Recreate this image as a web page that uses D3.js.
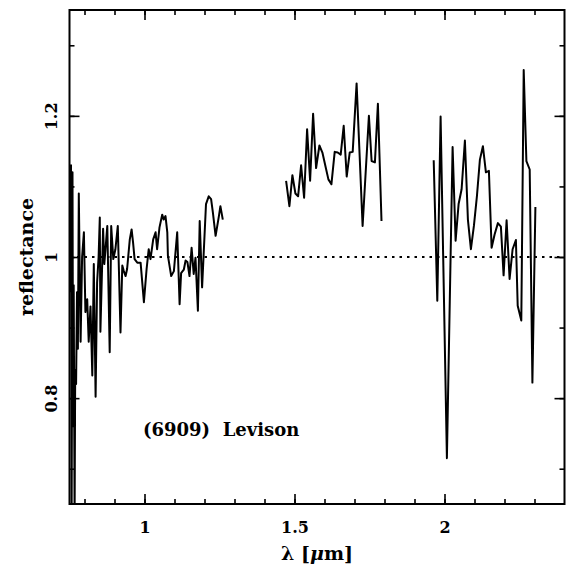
<!DOCTYPE html>
<html>
<head>
<meta charset="utf-8">
<script src="https://cdn.jsdelivr.net/npm/d3@7"></script>
<style>
  html, body { margin: 0; padding: 0; background: #fff; }
  svg { display: block; }
  text { font-family: "DejaVu Serif", "Liberation Serif", serif; font-weight: bold; fill: #000; }
</style>
</head>
<body>
<svg id="chart" width="569" height="576"></svg>
<script>
// Reflectance spectrum of (6909) Levison, three instrument segments
const visWavelength = [0.752, 0.755, 0.757, 0.760, 0.762, 0.764, 0.767, 0.769, 0.772, 0.775,
  0.778, 0.781, 0.787, 0.792, 0.798, 0.803, 0.809, 0.814, 0.820, 0.826,
  0.831, 0.837, 0.842, 0.847, 0.851, 0.853, 0.862, 0.866, 0.870, 0.876,
  0.884, 0.889, 0.896, 0.903, 0.911, 0.920, 0.926, 0.931, 0.937, 0.942,
  0.951, 0.957, 0.962, 0.967, 0.976, 0.987, 0.998, 1.007, 1.014, 1.020,
  1.029, 1.037, 1.042, 1.050, 1.059, 1.064, 1.070, 1.076, 1.078,
  1.089, 1.098, 1.109, 1.117, 1.122, 1.131, 1.137, 1.143, 1.150, 1.157,
  1.164, 1.170, 1.178, 1.184, 1.192, 1.205, 1.214, 1.222, 1.228, 1.237,
  1.248, 1.253, 1.261];
const visReflectance = [0.95, 1.13, 0.62, 1.12, 0.76, 0.96, 0.63, 0.84, 0.82, 0.95,
  0.87, 1.09, 0.88, 1.00, 1.035, 0.922, 0.940, 0.880, 0.930, 0.832,
  0.990, 0.802, 0.964, 1.000, 1.056, 0.894, 1.040, 0.990, 1.011, 1.044,
  0.865, 1.044, 0.997, 1.011, 1.044, 0.893, 0.988, 0.980, 0.973, 0.983,
  1.025, 1.039, 1.020, 0.997, 0.992, 0.992, 0.936, 0.983, 1.011, 0.997,
  1.025, 1.035, 1.011, 1.042, 1.060, 1.053, 1.058, 1.035, 1.002,
  0.973, 0.980, 1.035, 0.933, 0.977, 0.982, 0.995, 0.993, 0.973, 1.013,
  0.976, 0.999, 0.924, 1.051, 0.957, 1.075, 1.086, 1.082, 1.063, 1.030,
  1.058, 1.072, 1.053];

const jWavelength = [1.472, 1.483, 1.493, 1.503, 1.512, 1.522, 1.532, 1.542, 1.552, 1.562,
  1.572, 1.583, 1.593, 1.603, 1.613, 1.623, 1.634, 1.644, 1.654, 1.664,
  1.674, 1.684, 1.694, 1.707, 1.727, 1.748, 1.757, 1.768, 1.778, 1.790];
const jReflectance = [1.108, 1.072, 1.116, 1.090, 1.086, 1.130, 1.084, 1.181, 1.108, 1.203,
  1.126, 1.158, 1.148, 1.129, 1.110, 1.103, 1.149, 1.148, 1.145, 1.186,
  1.114, 1.148, 1.149, 1.246, 1.044, 1.200, 1.136, 1.134, 1.217, 1.051];

const kWavelength = [1.964, 1.976, 1.987, 2.008, 2.027, 2.037, 2.047, 2.057, 2.068, 2.078,
  2.088, 2.098, 2.108, 2.118, 2.128, 2.138, 2.148, 2.157, 2.167, 2.178,
  2.188, 2.197, 2.207, 2.217, 2.227, 2.238, 2.244, 2.256, 2.264, 2.273,
  2.284, 2.293, 2.303];
const kReflectance = [1.137, 0.938, 1.199, 0.715, 1.156, 1.023, 1.075, 1.096, 1.165, 1.053,
  1.011, 1.044, 1.086, 1.138, 1.157, 1.120, 1.122, 1.013, 1.032, 1.048,
  1.043, 0.974, 1.052, 0.969, 1.011, 1.024, 0.931, 0.910, 1.265, 1.136,
  1.124, 0.822, 1.071];

const xMajorTicks = [1, 1.5, 2];
const yMajorTicks = [0.8, 1, 1.2];
const yLabel = "reflectance";
const objectName = "(6909)  Levison";

const svg = d3.select("#chart");
const plotLeft = 69.5, plotRight = 564.5, plotTop = 10, plotBottom = 504;

const x = d3.scaleLinear().domain([0.75, 2.4]).range([plotLeft, plotRight]);
const y = d3.scaleLinear().domain([0.65, 1.35]).range([plotBottom, plotTop]);

const xMinor = d3.range(0.8, 2.4, 0.1).map(v => +v.toFixed(2));
const yMinor = d3.range(0.7, 1.35, 0.1).map(v => +v.toFixed(2));
const fmt = v => String(+v.toFixed(2));

function styleAxis(g) {
  g.select(".domain").remove();
  g.selectAll(".tick line").attr("stroke", "#000").attr("stroke-width", 1.6);
}

// minor ticks on all four sides
svg.append("g").attr("transform", `translate(0,${plotBottom})`)
  .call(d3.axisBottom(x).tickValues(xMinor).tickSize(-5).tickFormat(""))
  .call(styleAxis);
svg.append("g").attr("transform", `translate(0,${plotTop})`)
  .call(d3.axisTop(x).tickValues(xMinor).tickSize(-5).tickFormat(""))
  .call(styleAxis);
svg.append("g").attr("transform", `translate(${plotLeft},0)`)
  .call(d3.axisLeft(y).tickValues(yMinor).tickSize(-5).tickFormat(""))
  .call(styleAxis);
svg.append("g").attr("transform", `translate(${plotRight},0)`)
  .call(d3.axisRight(y).tickValues(yMinor).tickSize(-5).tickFormat(""))
  .call(styleAxis);

// major ticks
svg.append("g").attr("transform", `translate(0,${plotBottom})`)
  .call(d3.axisBottom(x).tickValues(xMajorTicks).tickSize(-10).tickPadding(0).tickFormat(fmt))
  .call(styleAxis)
  .call(g => g.selectAll("text").attr("font-size", 16).attr("font-family", null)
    .attr("y", 29).attr("dy", null));
svg.append("g").attr("transform", `translate(0,${plotTop})`)
  .call(d3.axisTop(x).tickValues(xMajorTicks).tickSize(-10).tickFormat(""))
  .call(styleAxis);
svg.append("g").attr("transform", `translate(${plotLeft},0)`)
  .call(d3.axisLeft(y).tickValues(yMajorTicks).tickSize(-10).tickFormat(fmt))
  .call(styleAxis)
  .call(g => g.selectAll("text")
    .attr("font-size", 16).attr("font-family", null)
    .attr("transform", "rotate(-90)")
    .attr("x", 0).attr("y", -12.5).attr("dy", null)
    .attr("text-anchor", "middle"));
svg.append("g").attr("transform", `translate(${plotRight},0)`)
  .call(d3.axisRight(y).tickValues(yMajorTicks).tickSize(-10).tickFormat(""))
  .call(styleAxis);

// plot frame
svg.append("rect")
  .attr("x", plotLeft).attr("y", plotTop)
  .attr("width", plotRight - plotLeft).attr("height", plotBottom - plotTop)
  .attr("fill", "none").attr("stroke", "#000").attr("stroke-width", 2);

// reference line at unit reflectance
svg.append("line")
  .attr("x1", plotLeft).attr("x2", plotRight)
  .attr("y1", y(1)).attr("y2", y(1))
  .attr("stroke", "#000").attr("stroke-width", 2)
  .attr("stroke-dasharray", "2.5,5");

svg.append("clipPath").attr("id", "plot-clip")
  .append("rect").attr("x", plotLeft).attr("y", plotTop)
  .attr("width", plotRight - plotLeft).attr("height", plotBottom - plotTop);

const line = d3.line().x(d => x(d[0])).y(d => y(d[1]));
const segments = [
  d3.zip(visWavelength, visReflectance),
  d3.zip(jWavelength, jReflectance),
  d3.zip(kWavelength, kReflectance)
];
svg.append("g").attr("clip-path", "url(#plot-clip)")
  .selectAll("path").data(segments).join("path")
  .attr("d", line)
  .attr("fill", "none").attr("stroke", "#000")
  .attr("stroke-width", 2).attr("stroke-linejoin", "round");

// labels
svg.append("text")
  .attr("x", 143).attr("y", 436)
  .attr("font-size", 18)
  .style("white-space", "pre")
  .text(objectName);

const xl = svg.append("text")
  .attr("x", (plotLeft + plotRight) / 2).attr("y", 560)
  .attr("text-anchor", "middle").attr("font-size", 19);
xl.append("tspan").text("λ [");
xl.append("tspan").attr("font-style", "italic").text("μ");
xl.append("tspan").text("m]");

svg.append("text")
  .attr("transform", `translate(33,${y(1)}) rotate(-90)`)
  .attr("text-anchor", "middle").attr("font-size", 19)
  .text(yLabel);
</script>
</body>
</html>
